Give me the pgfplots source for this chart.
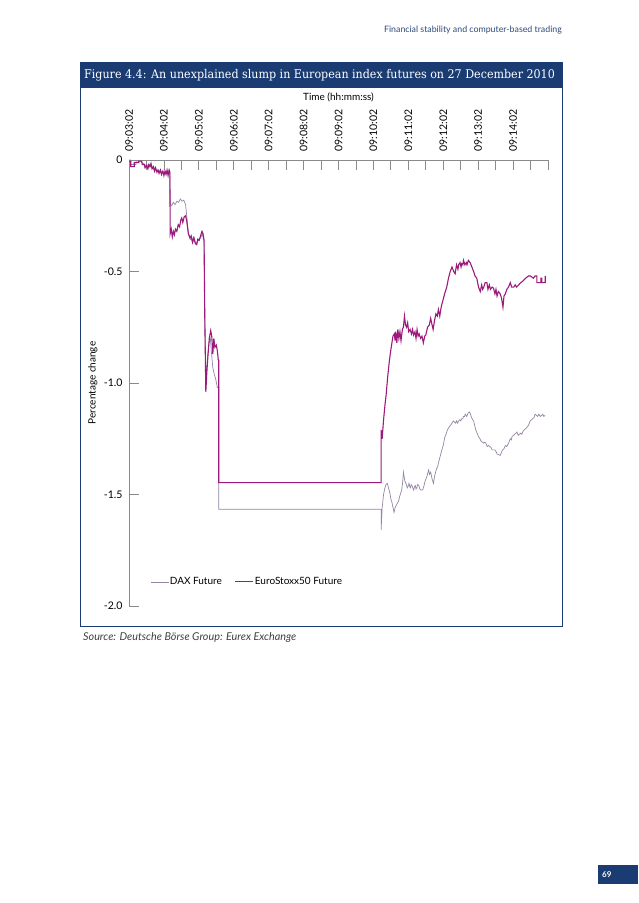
\documentclass[border=0pt]{standalone}
\usepackage{fontspec}
\setmainfont{Lato}
\newfontfamily\titlefont{DejaVu Serif}
\usepackage{graphicx}
\usepackage{pgfplots}
\pgfplotsset{compat=1.18}
\definecolor{navy}{HTML}{1A3C72}
\definecolor{daxc}{HTML}{9585A3}
\definecolor{euroc}{HTML}{9C1A7C}
\definecolor{axisg}{HTML}{8A8A8A}
\definecolor{headc}{HTML}{2E4A7A}
\begin{document}
\begin{tikzpicture}[x=1pt,y=1pt]
\fill[white] (0,0) rectangle (638,903);
% header
\node[anchor=base east,inner sep=0pt,font=\fontsize{8.8}{10}\selectfont,text=headc] at (562,870) {Financial stability and computer-based trading};
% title bar
\fill[navy] (80,841) rectangle (563,815);
\node[anchor=west,inner sep=0pt,text=white,font=\titlefont\fontsize{12}{14}\selectfont] at (84,828) {\scalebox{0.925}[1]{Figure 4.4: An unexplained slump in European index futures on 27 December 2010}};
% frame
\draw[navy,line width=1pt] (80,815) -- (80,276) -- (562.5,276) -- (562.5,815);
% source
\node[anchor=base west,inner sep=0pt,font=\fontsize{10.8}{12}\selectfont\itshape,text=black!75] at (83,262) {Source: Deutsche Börse Group: Eurex Exchange};
% page number
\fill[navy] (598,19) rectangle (638,38);
\node[anchor=west,inner sep=0pt,text=white,font=\fontsize{8}{9}\selectfont\bfseries] at (602,28.5) {69};
\begin{axis}[
  at={(129pt,297pt)}, anchor=south west,
  scale only axis, width=419pt, height=446pt,
  xmin=0, xmax=12, ymin=-2, ymax=0,
  axis x line=top, axis y line=left,
  every non boxed x axis/.append style={x axis line style=-},
  every non boxed y axis/.append style={y axis line style=-},
  axis line style={-,draw=axisg,line width=0.8pt},
  tick align=inside,
  tick style={draw=axisg,line width=0.8pt},
  major tick length=10.5pt, minor tick length=10.5pt,
  xtick={0,1,...,11},
  minor xtick={0.5,1.5,...,11.5,12},
  xticklabels={09:03:02,09:04:02,09:05:02,09:06:02,09:07:02,09:08:02,09:09:02,09:10:02,09:11:02,09:12:02,09:13:02,09:14:02},
  xticklabel style={rotate=90,anchor=west,font=\fontsize{10.5}{11}\selectfont,xshift=5pt},
  ytick={-2,-1.5,-1,-0.5,0},
  yticklabels={{-2.0},{-1.5},{-1.0},{-0.5},{0}},
  yticklabel style={font=\fontsize{10.5}{11}\selectfont,anchor=east,xshift=-3pt},
  xlabel={Time (hh:mm:ss)},
  xlabel style={at={(axis description cs:0.5,1.1323)},anchor=base,font=\fontsize{10}{11}\selectfont},
  ylabel={Percentage change},
  ylabel style={at={(axis description cs:-0.0668,0.5)},anchor=south,font=\fontsize{10}{11}\selectfont},
  legend style={draw=none,fill=none,inner sep=0pt,legend columns=-1,
    at={(axis description cs:0.05,0.054)},anchor=west,
    font=\fontsize{10}{11}\selectfont,
    /tikz/every even column/.append style={column sep=12pt},
    nodes={inner sep=1pt}},
  legend image code/.code={\draw[#1] (0pt,0pt) -- (18pt,0pt);},
  clip=false,
]
\addplot[daxc,line width=0.7pt] coordinates {
(0,0) (0.05,0) (0.05,-0.02) (0.2,-0.02) (0.2,-0.005) (0.35,-0.005) (0.4,-0.015)
(0.45,-0.02) (0.5,-0.03) (0.55,-0.02) (0.6,-0.03) (0.65,-0.025) (0.7,-0.04)
(0.75,-0.035) (0.8,-0.05) (0.85,-0.045) (0.9,-0.055) (0.95,-0.05) (1.0,-0.06)
(1.05,-0.05) (1.1,-0.06) (1.15,-0.045) (1.17,-0.05)
(1.18,-0.20) (1.22,-0.205) (1.27,-0.19) (1.32,-0.2) (1.37,-0.185) (1.42,-0.19)
(1.47,-0.175) (1.52,-0.185) (1.57,-0.18) (1.62,-0.2) (1.66,-0.26) (1.70,-0.33)
(1.75,-0.355) (1.80,-0.36) (1.85,-0.345) (1.90,-0.37) (1.95,-0.37) (2.00,-0.355)
(2.05,-0.35) (2.10,-0.33) (2.15,-0.37) (2.17,-0.70) (2.20,-1.00) (2.24,-0.90)
(2.29,-0.82) (2.33,-0.80) (2.36,-0.86) (2.40,-0.93) (2.44,-0.96) (2.48,-0.98)
(2.53,-1.02) (2.57,-1.02) (2.57,-1.566) (7.22,-1.566)
(7.22,-1.66) (7.25,-1.56) (7.29,-1.50) (7.33,-1.47) (7.36,-1.455) (7.40,-1.45) (7.43,-1.47) (7.45,-1.48)
(7.48,-1.50) (7.50,-1.52) (7.53,-1.535) (7.55,-1.55) (7.59,-1.58) (7.62,-1.56) (7.65,-1.55) (7.68,-1.54) (7.72,-1.53) (7.75,-1.51) (7.77,-1.50)
(7.81,-1.48) (7.84,-1.44) (7.86,-1.40) (7.88,-1.42) (7.90,-1.44) (7.93,-1.45) (7.97,-1.47) (8.00,-1.46) (8.02,-1.45) (8.04,-1.465) (8.06,-1.47)
(8.08,-1.455) (8.10,-1.46) (8.13,-1.47) (8.15,-1.48) (8.18,-1.465) (8.20,-1.46) (8.22,-1.475) (8.24,-1.47) (8.27,-1.455) (8.30,-1.46) (8.33,-1.475) (8.36,-1.48)
(8.41,-1.48) (8.45,-1.46) (8.48,-1.44) (8.53,-1.42) (8.58,-1.39) (8.61,-1.41) (8.64,-1.40) (8.68,-1.43)
(8.72,-1.45) (8.75,-1.42) (8.78,-1.40) (8.82,-1.38) (8.84,-1.375) (8.86,-1.36) (8.91,-1.33) (8.96,-1.30)
(9.00,-1.28) (9.03,-1.255) (9.05,-1.24) (9.08,-1.23) (9.12,-1.21) (9.16,-1.20) (9.20,-1.19) (9.23,-1.185) (9.25,-1.18) (9.29,-1.17)
(9.32,-1.175) (9.35,-1.18) (9.38,-1.17) (9.41,-1.18) (9.44,-1.17) (9.47,-1.165) (9.50,-1.17) (9.53,-1.16) (9.56,-1.16) (9.58,-1.15) (9.61,-1.15) (9.63,-1.14)
(9.67,-1.15) (9.71,-1.135) (9.75,-1.13) (9.78,-1.14) (9.80,-1.15) (9.84,-1.165) (9.87,-1.17) (9.90,-1.19) (9.93,-1.21)
(9.97,-1.225) (10.01,-1.24) (10.05,-1.25) (10.08,-1.26) (10.12,-1.265) (10.16,-1.27) (10.19,-1.265) (10.22,-1.27) (10.26,-1.285) (10.30,-1.28) (10.34,-1.285) (10.37,-1.29)
(10.40,-1.30) (10.44,-1.30) (10.48,-1.30) (10.52,-1.31) (10.55,-1.32) (10.58,-1.32) (10.63,-1.325) (10.67,-1.31) (10.70,-1.30) (10.74,-1.295) (10.78,-1.28)
(10.82,-1.285) (10.87,-1.27) (10.92,-1.25) (10.95,-1.255) (10.97,-1.24) (11.01,-1.235) (11.04,-1.23) (11.08,-1.225) (11.11,-1.22) (11.15,-1.235) (11.18,-1.23)
(11.22,-1.225) (11.25,-1.23) (11.29,-1.215) (11.32,-1.21) (11.36,-1.205) (11.39,-1.20) (11.44,-1.19) (11.49,-1.17) (11.53,-1.165) (11.56,-1.16) (11.60,-1.155)
(11.63,-1.14) (11.67,-1.145) (11.70,-1.15) (11.74,-1.14) (11.78,-1.15) (11.82,-1.145) (11.85,-1.14) (11.88,-1.15) (11.92,-1.145)
};
\addlegendentry{DAX Future}
\addplot[euroc,line width=1.1pt] coordinates {
(0,-0.005) (0.05,-0.005) (0.05,-0.03) (0.15,-0.03) (0.15,-0.012) (0.28,-0.012)
(0.28,-0.005) (0.36,-0.005) (0.38,-0.02) (0.44,-0.02) (0.46,-0.035) (0.5,-0.025)
(0.54,-0.04) (0.57,-0.02) (0.6,-0.03) (0.63,-0.015) (0.66,-0.04) (0.7,-0.03)
(0.73,-0.05) (0.76,-0.035) (0.8,-0.055) (0.83,-0.045) (0.86,-0.06) (0.9,-0.045)
(0.93,-0.065) (0.97,-0.05) (1.0,-0.07) (1.03,-0.05) (1.06,-0.065) (1.09,-0.045)
(1.12,-0.07) (1.15,-0.045) (1.17,-0.055)
(1.18,-0.33) (1.21,-0.31) (1.24,-0.345) (1.27,-0.32) (1.30,-0.335) (1.33,-0.31)
(1.37,-0.32) (1.41,-0.29) (1.45,-0.30) (1.48,-0.27) (1.51,-0.26) (1.54,-0.28)
(1.58,-0.255) (1.62,-0.25) (1.65,-0.27) (1.70,-0.33) (1.75,-0.35) (1.78,-0.34)
(1.82,-0.37) (1.86,-0.35) (1.90,-0.375) (1.94,-0.38) (1.97,-0.355) (2.01,-0.36)
(2.05,-0.34) (2.09,-0.32) (2.12,-0.33) (2.15,-0.36) (2.17,-0.70) (2.20,-1.04)
(2.23,-0.95) (2.26,-0.88) (2.30,-0.80) (2.34,-0.765) (2.37,-0.79) (2.40,-0.87)
(2.43,-0.80) (2.46,-0.84) (2.50,-0.83) (2.53,-0.855) (2.56,-0.90) (2.57,-0.90)
(2.57,-1.447) (7.22,-1.447)
(7.22,-1.21) (7.25,-1.25) (7.29,-1.166) (7.33,-1.10) (7.36,-1.06) (7.41,-0.97)
(7.46,-0.897) (7.50,-0.85) (7.56,-0.79) (7.60,-0.78) (7.62,-0.81) (7.64,-0.77)
(7.67,-0.82) (7.70,-0.76) (7.73,-0.80) (7.76,-0.77) (7.79,-0.81) (7.83,-0.76)
(7.86,-0.75) (7.89,-0.70) (7.92,-0.74) (7.95,-0.75) (7.98,-0.73) (8.01,-0.77)
(8.05,-0.76) (8.09,-0.78) (8.12,-0.76) (8.15,-0.785) (8.19,-0.77) (8.22,-0.80)
(8.25,-0.76) (8.28,-0.79) (8.31,-0.78) (8.35,-0.80) (8.39,-0.79) (8.43,-0.82)
(8.47,-0.79) (8.50,-0.785) (8.55,-0.75) (8.60,-0.74) (8.64,-0.71) (8.68,-0.74)
(8.71,-0.76) (8.75,-0.72) (8.79,-0.69) (8.83,-0.70) (8.86,-0.67) (8.90,-0.70)
(8.94,-0.66) (8.99,-0.63) (9.04,-0.60) (9.10,-0.57) (9.15,-0.53) (9.20,-0.50)
(9.25,-0.48) (9.30,-0.50) (9.34,-0.51) (9.38,-0.47) (9.42,-0.49) (9.44,-0.47)
(9.48,-0.46) (9.51,-0.48) (9.53,-0.465) (9.56,-0.47) (9.58,-0.45) (9.62,-0.47)
(9.66,-0.46) (9.68,-0.47) (9.72,-0.45) (9.77,-0.46) (9.82,-0.48) (9.87,-0.50)
(9.91,-0.52) (9.96,-0.53) (10.01,-0.57) (10.06,-0.59) (10.10,-0.56) (10.13,-0.58)
(10.16,-0.57) (10.20,-0.55) (10.25,-0.55) (10.28,-0.58) (10.32,-0.56) (10.35,-0.58)
(10.40,-0.57) (10.44,-0.575) (10.48,-0.60) (10.51,-0.58) (10.54,-0.61) (10.58,-0.59)
(10.63,-0.60) (10.67,-0.62) (10.71,-0.66) (10.74,-0.61) (10.78,-0.60) (10.82,-0.58)
(10.87,-0.57) (10.92,-0.55) (10.96,-0.57) (11.02,-0.57) (11.06,-0.56) (11.10,-0.57)
(11.16,-0.56) (11.22,-0.55) (11.30,-0.54) (11.36,-0.53) (11.44,-0.52) (11.50,-0.52)
(11.58,-0.53) (11.63,-0.52) (11.68,-0.52) (11.68,-0.55) (11.80,-0.55) (11.80,-0.53)
(11.82,-0.53) (11.82,-0.55) (11.92,-0.55) (11.92,-0.52)
};
\addlegendentry{EuroStoxx50 Future}
\end{axis}
\end{tikzpicture}
\end{document}
